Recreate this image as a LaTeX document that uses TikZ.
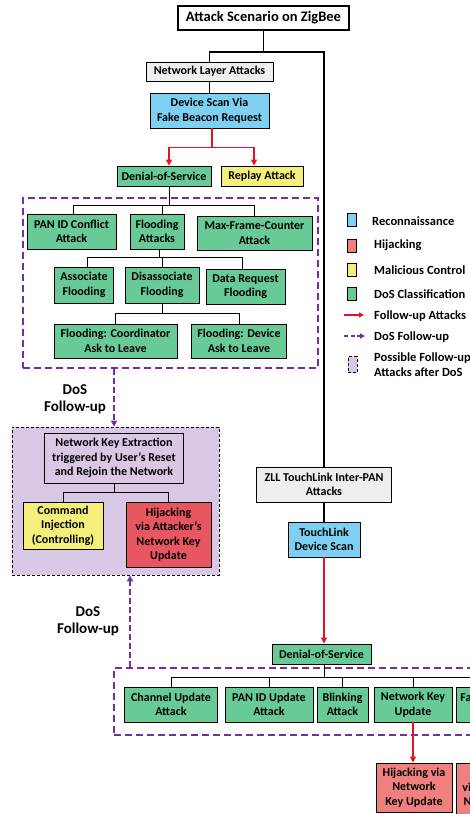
\documentclass[tikz,border=0pt]{standalone}
\usepackage{fontspec}
\setmainfont{Carlito}
\usetikzlibrary{arrows.meta}
\definecolor{blu}{RGB}{125,208,242}
\definecolor{grn}{RGB}{104,202,150}
\definecolor{yel}{RGB}{244,238,122}
\definecolor{redA}{RGB}{240,128,128}
\definecolor{redB}{RGB}{232,86,98}
\definecolor{gry}{RGB}{238,238,238}
\definecolor{pur}{RGB}{112,48,160}
\definecolor{lil}{RGB}{217,199,230}
\definecolor{arr}{RGB}{230,20,30}
\tikzset{
  bx/.style={draw=black, line width=0.9pt, align=center, inner sep=0pt, text=black},
  trunk/.style={draw=black, line width=1.8pt},
  tree/.style={draw=black, line width=0.9pt},
  redarrow/.style={draw=arr, line width=1.8pt, -{Triangle[length=6pt,width=6pt]}},
  purarrow/.style={draw=pur, line width=2pt, dash pattern=on 6pt off 3pt, -{Triangle[length=6pt,width=6pt]}},
  pbox/.style={draw=pur, line width=2.2pt, dash pattern=on 7pt off 4pt, inner sep=0pt},
  legsq/.style={draw=black, line width=0.9pt, minimum width=9pt, minimum height=13pt, inner sep=0pt},
  legtxt/.style={anchor=west, inner sep=0pt, font=\bfseries\fontsize{12.5}{15}\selectfont},
  lbl/.style={align=center, inner sep=0pt, font=\bfseries\fontsize{15}{17}\selectfont}
}
\begin{document}
\begin{tikzpicture}[x=1pt,y=-1pt,font=\bfseries\fontsize{12}{14.5}\selectfont]
\useasboundingbox (0,0) rectangle (470,814);
\clip (0,0) rectangle (470,814);
\fill[white] (0,0) rectangle (470,814);

% dashed group boxes
\node[pbox, minimum width=295, minimum height=170] (g1) at (170.5,283) {};
\node[pbox, minimum width=526, minimum height=67] (g2) at (377,701.5) {};
\node[draw=black, line width=0.8pt, dash pattern=on 3pt off 2pt, fill=lil, inner sep=0pt,
      minimum width=207, minimum height=148] (lilac) at (115.5,501) {};

% top
\node[bx, line width=2.2pt, fill=white, minimum width=171, minimum height=24,
      font=\bfseries\fontsize{14.5}{17}\selectfont] (title) at (263.5,18) {Attack Scenario on ZigBee};
\node[bx, fill=gry, minimum width=127, minimum height=19] (nla) at (209.5,71.5) {Network Layer Attacks};
\node[bx, fill=blu, minimum width=119, minimum height=35] (scan) at (209.5,110.5) {Device Scan Via\\Fake Beacon Request};
\node[bx, fill=grn, minimum width=94, minimum height=20] (dos1) at (164,176) {Denial-of-Service};
\node[bx, fill=yel, minimum width=82, minimum height=20] (replay) at (262,176) {Replay Attack};

% DoS group 1
\node[bx, fill=grn, minimum width=89, minimum height=35] (pan) at (71.5,231.5) {PAN ID Conflict\\Attack};
\node[bx, fill=grn, minimum width=54, minimum height=35] (flood) at (157,231.5) {Flooding\\Attacks};
\node[bx, fill=grn, minimum width=115, minimum height=34] (maxf) at (254.5,233) {Max-Frame-Counter\\Attack};
\node[bx, fill=grn, minimum width=59, minimum height=36] (assoc) at (84,285) {Associate\\Flooding};
\node[bx, fill=grn, minimum width=74, minimum height=36] (disas) at (162,285) {Disassociate\\Flooding};
\node[bx, fill=grn, minimum width=79, minimum height=35] (datareq) at (245.5,286.5) {Data Request\\Flooding};
\node[bx, fill=grn, minimum width=123, minimum height=34] (coord) at (115.5,341) {Flooding: Coordinator\\Ask to Leave};
\node[bx, fill=grn, minimum width=95, minimum height=34] (device) at (239,341) {Flooding: Device\\Ask to Leave};

% lilac group
\node[bx, fill=lil, minimum width=139, minimum height=50] (nke) at (114,458) {Network Key Extraction\\triggered by User’s Reset\\and Rejoin the Network};
\node[bx, fill=yel, minimum width=80, minimum height=47] (cmd) at (63,525.5) {Command\\Injection\\(Controlling)};
\node[bx, fill=redB, minimum width=85, minimum height=65] (hij1) at (168.5,534.5) {Hijacking\\via Attacker’s\\Network Key\\Update};

% ZLL branch
\node[bx, fill=gry, minimum width=135, minimum height=35] (zll) at (324,484.5) {ZLL TouchLink Inter-PAN\\Attacks};
\node[bx, fill=blu, minimum width=72, minimum height=35] (tl) at (324,539.5) {TouchLink\\Device Scan};
\node[bx, fill=grn, minimum width=99, minimum height=20] (dos2) at (321.5,654) {Denial-of-Service};
\node[bx, fill=grn, minimum width=93, minimum height=35] (chan) at (171,704.5) {Channel Update\\Attack};
\node[bx, fill=grn, minimum width=88, minimum height=35] (panu) at (269,704.5) {PAN ID Update\\Attack};
\node[bx, fill=grn, minimum width=51, minimum height=35] (blink) at (342.5,704.5) {Blinking\\Attack};
\node[bx, fill=grn, minimum width=78, minimum height=35] (nku) at (413,704.5) {Network Key\\Update};
\node[bx, fill=grn, minimum height=35, inner xsep=4pt, anchor=west] (fact) at (456,704.5) {Factory Reset\\Attack};
\node[bx, fill=redA, minimum width=76, minimum height=49] (hij2) at (414,787.5) {Hijacking via\\Network\\Key Update};
\node[bx, fill=redA, minimum height=64, inner xsep=6pt, inner ysep=3pt, anchor=north west] (hij3) at (456,763) {Hijacking\\via Attacker’s\\Network Key\\Update};

% trunk connectors
\draw[trunk] (title.south) -- ++(0,21) coordinate (tj);
\draw[trunk] (nla.north) |- (tj) -| (zll.north);
\draw[trunk] (nla.south) -- (scan.north);
\draw[trunk] (zll.south) -- (tl.north);

% red follow-up arrows
\draw[draw=arr, line width=1.8pt] ([xshift=2.5pt]scan.south) -- ++(0,19) coordinate (rj);
\draw[redarrow] (rj) -| ([xshift=5pt]dos1.north);
\draw[redarrow] (rj) -| ([xshift=-8pt]replay.north);
\draw[redarrow] (tl.south) -- (tl.south |- dos2.north);
\draw[redarrow] (nku.south) -- (nku.south |- hij2.north);

% tree connectors
\draw[tree] ([xshift=5pt]dos1.south) -- ++(0,20);
\draw[tree] ([xshift=1.5pt]pan.north) -- ++(0,-8) -| (maxf.north);
\draw[tree] ([xshift=5pt]flood.north) -- ++(0,-8);
\draw[tree] ([xshift=2pt]flood.south) -- ++(0,9);
\draw[tree] ([xshift=3pt]assoc.north) -- ++(0,-9) -| ([xshift=-3pt]datareq.north);
\draw[tree] (disas.north) -- ++(0,-9);
\draw[tree] (disas.south) -- ++(0,11);
\draw[tree] (coord.north) -- ++(0,-10) -| (device.north);
\draw[tree] (nke.south) -- ++(0,10);
\draw[tree] (cmd.north) -- ++(0,-9) -| (hij1.north);
\draw[tree] ([xshift=2.5pt]dos2.south) -- ++(0,14);
\draw[tree] (chan.north) -- ++(0,-9) -| (fact.north);
\draw[tree] (panu.north) -- ++(0,-9);
\draw[tree] (blink.north) -- ++(0,-9);
\draw[tree] (nku.north) -- ++(0,-9);

% DoS follow-up arrows
\draw[purarrow] (g1.south -| nke) -- (lilac.north -| nke);
\path (lilac.south) ++(14.5,0) coordinate (la);
\draw[purarrow] (g2.north -| la) -- (la);
\node[lbl] (fu1) at (75,399) {DoS\\Follow-up};
\node[lbl] (fu2) at (88,621) {DoS\\Follow-up};

% legend
\node[legsq, fill=blu] (s1) at (351.5,219.5) {};
\node[legsq, fill=redA] (s2) at (351.5,245.5) {};
\node[legsq, fill=yel] (s3) at (351.5,270) {};
\node[legsq, fill=grn] (s4) at (351.5,293.5) {};
\coordinate (a1) at (344,315); \coordinate (a2) at (364,315);
\draw[draw=arr, line width=1.5pt, -{Triangle[length=5pt,width=5pt]}] (a1) -- (a2);
\coordinate (b1) at (344,336); \coordinate (b2) at (365,336);
\draw[draw=pur, line width=1.5pt, dash pattern=on 4pt off 2.5pt, -{Triangle[length=5pt,width=5pt]}] (b1) -- (b2);
\node[draw=black, line width=0.8pt, dash pattern=on 3pt off 2pt, fill=lil, minimum width=9pt, minimum height=16pt, inner sep=0pt] (s7) at (352.5,364.5) {};
\node[legtxt] at (372,221) {Reconnaissance};
\node[legtxt] at (374,245) {Hijacking};
\node[legtxt] at (374,270) {Malicious Control};
\node[legtxt] at (374,294) {DoS Classification};
\node[legtxt] at (374,316) {Follow-up Attacks};
\node[legtxt] at (374,337) {DoS Follow-up};
\node[legtxt, align=left, anchor=west] at (374,365) {Possible Follow-up\\Attacks after DoS};
\end{tikzpicture}
\end{document}
